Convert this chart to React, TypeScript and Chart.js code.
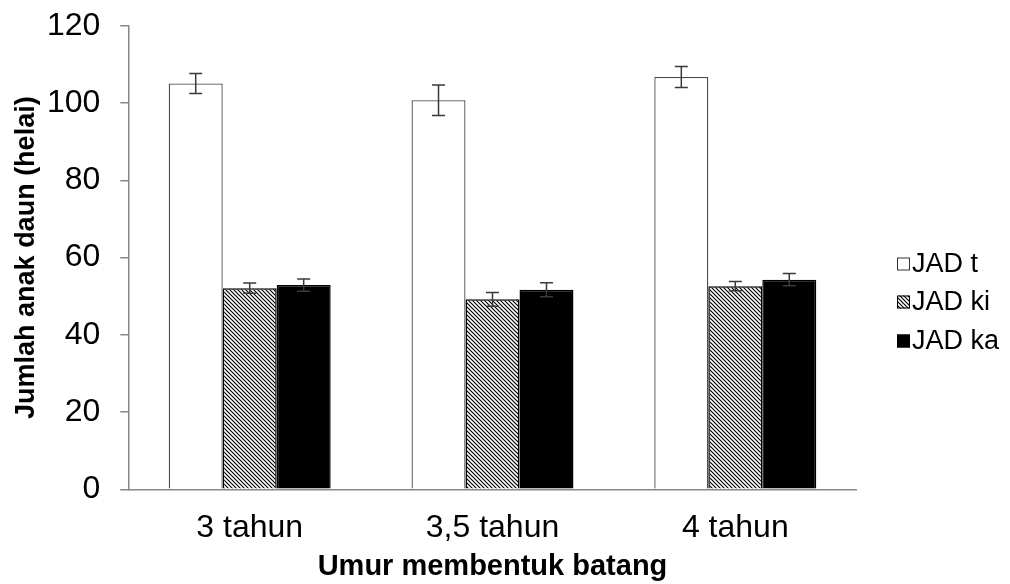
import React, { useEffect, useRef } from "react";
import { Chart, registerables } from "chart.js";

Chart.register(...registerables);

const categories = ["3 tahun", "3,5 tahun", "4 tahun"];
const seriesNames = ["JAD t", "JAD ki", "JAD ka"];
const jadT = [105.1, 100.8, 106.8];
const jadKi = [52.1, 49.2, 52.6];
const jadKa = [52.9, 51.7, 54.3];
const errT = [2.6, 3.95, 2.7];
const errKi = [1.35, 1.8, 1.2];
const errKa = [1.6, 1.8, 1.6];
const yTicks = [0, 20, 40, 60, 80, 100, 120];
const xTitle = "Umur membentuk batang";
const yTitle = "Jumlah anak daun (helai)";

const FONT = "Arial, 'Liberation Sans', sans-serif";

function makeHatch(): CanvasPattern | string {
  const c = document.createElement("canvas");
  const n = 4;
  c.width = n;
  c.height = n;
  const g = c.getContext("2d");
  if (!g) return "#888";
  g.fillStyle = "#ffffff";
  g.fillRect(0, 0, n, n);
  g.strokeStyle = "#000000";
  g.lineWidth = 1.2;
  g.beginPath();
  for (const o of [-n, 0, n]) {
    g.moveTo(o - 1, -1);
    g.lineTo(o + n + 1, n + 1);
  }
  g.stroke();
  const p = g.createPattern(c, "repeat");
  return p || "#888";
}

export default function App() {
  const ref = useRef<HTMLCanvasElement | null>(null);

  useEffect(() => {
    document.body.style.margin = "0";
    const canvas = ref.current;
    if (!canvas) return;
    const hatch = makeHatch();
    const errs = [errT, errKi, errKa];
    const fills: any[] = ["#ffffff", hatch, "#000000"];
    const borders = ["#4a4a4a", "#000000", "#000000"];

    const errorPlugin = {
      id: "errbars",
      afterDatasetsDraw(chart: any) {
        const ctx = chart.ctx;
        const y = chart.scales.y;
        ctx.save();
        ctx.strokeStyle = "#3a3a3a";
        ctx.lineWidth = 1.5;
        chart.data.datasets.forEach((ds: any, di: number) => {
          const meta = chart.getDatasetMeta(di);
          meta.data.forEach((bar: any, i: number) => {
            const v = ds.data[i];
            const e = errs[di][i];
            const x = bar.x;
            const yt = y.getPixelForValue(v + e);
            const yb = y.getPixelForValue(v - e);
            const cap = 6.5;
            ctx.beginPath();
            ctx.moveTo(x, yt);
            ctx.lineTo(x, yb);
            ctx.moveTo(x - cap, yt);
            ctx.lineTo(x + cap, yt);
            ctx.moveTo(x - cap, yb);
            ctx.lineTo(x + cap, yb);
            ctx.stroke();
          });
        });
        ctx.restore();
      },
    };

    const legendPlugin = {
      id: "customLegend",
      afterDraw(chart: any) {
        const ctx = chart.ctx;
        ctx.save();
        const rowsY = [264, 302, 341];
        const bx = 897;
        const bs = 13;
        ctx.font = `27px ${FONT}`;
        ctx.textBaseline = "middle";
        ctx.textAlign = "left";
        seriesNames.forEach((name, i) => {
          const cy = rowsY[i];
          ctx.fillStyle = fills[i];
          ctx.fillRect(bx, cy - bs / 2, bs, bs);
          ctx.strokeStyle = i === 0 ? "#333333" : "#000000";
          ctx.lineWidth = 1;
          ctx.strokeRect(bx + 0.5, cy - bs / 2 + 0.5, bs - 1, bs - 1);
          ctx.fillStyle = "#000000";
          ctx.fillText(name, bx + bs + 2, cy + 1);
        });
        ctx.restore();
      },
    };

    const chart = new Chart(canvas, {
      type: "bar",
      data: {
        labels: categories,
        datasets: [jadT, jadKi, jadKa].map((d, i) => ({
          label: seriesNames[i],
          data: d,
          backgroundColor: fills[i],
          borderColor: borders[i],
          borderWidth: i === 0 ? 1.3 : 1.5,
          borderSkipped: "start",
          categoryPercentage: 0.667,
          barPercentage: 1.0,
        })),
      },
      options: {
        animation: false,
        responsive: false,
        devicePixelRatio: 1,
        events: [],
        layout: { padding: { left: 0, right: 153.3, top: 26, bottom: 0 } },
        plugins: {
          legend: { display: false },
          tooltip: { enabled: false },
        },
        scales: {
          x: {
            offset: true,
            grid: { display: false, drawTicks: false },
            border: { display: true, color: "#888888", width: 1.5 },
            ticks: {
              color: "#000000",
              font: { family: FONT, size: 32 },
              padding: 20,
              maxRotation: 0,
            },
            title: {
              display: true,
              text: xTitle,
              color: "#000000",
              font: { family: FONT, size: 29, weight: "bold" },
              padding: { top: 0, bottom: 0 },
            },
            afterFit(s: any) {
              s.height = 584 - 489.3;
              s.paddingLeft = 0;
              s.paddingRight = 0;
            },
          },
          y: {
            min: 0,
            max: 120,
            afterBuildTicks(s: any) {
              s.ticks = yTicks.map((v) => ({ value: v }));
            },
            grid: {
              display: true,
              drawOnChartArea: false,
              drawTicks: true,
              tickLength: 8,
              color: "#888888",
              lineWidth: 1.5,
            },
            border: { display: true, color: "#888888", width: 1.5 },
            ticks: {
              color: "#000000",
              font: { family: FONT, size: 32 },
              padding: 20,
            },
            title: {
              display: true,
              text: yTitle,
              color: "#000000",
              font: { family: FONT, size: 27, weight: "bold" },
              padding: { top: 10, bottom: 10 },
            },
            afterFit(s: any) {
              s.width = 128.3;
              s.paddingTop = 0;
              s.paddingBottom = 0;
            },
          },
        },
      },
      plugins: [errorPlugin, legendPlugin],
    });
    return () => chart.destroy();
  }, []);

  return (
    <div style={{ position: "absolute", left: 0, top: 0, width: 1010, height: 584, background: "#fff" }}>
      <canvas ref={ref} width={1010} height={584} style={{ width: 1010, height: 584 }} />
    </div>
  );
}
